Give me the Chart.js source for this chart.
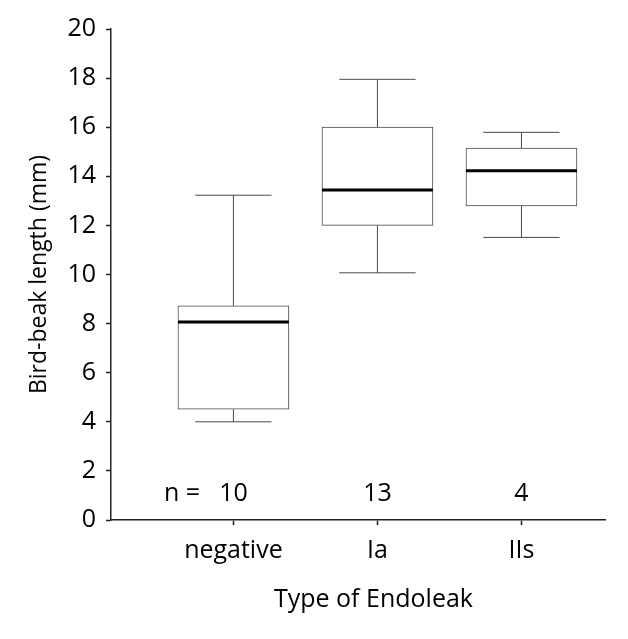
<!DOCTYPE html>
<html>
<head>
<meta charset="utf-8">
<script src="https://cdn.jsdelivr.net/npm/chart.js@4.4.1/dist/chart.umd.min.js"></script>
<style>
  html, body { margin: 0; padding: 0; background: #fff; }
  #wrap { width: 628px; height: 639px; }
</style>
</head>
<body>
<div id="wrap"><canvas id="boxChart" width="628" height="639"></canvas></div>
<script>
// values (mm)
const categories = ['negative', 'Ia', 'IIs'];
const counts = [10, 13, 4];
const whiskerLow = [4.0, 10.07, 11.51];
const q1 = [4.51, 12.0, 12.79];
const medians = [8.07, 13.44, 14.23];
const q3 = [8.72, 16.0, 15.15];
const whiskerHigh = [13.23, 17.95, 15.79];
const positions = [1, 2, 3];

const FONT = "'Open Sans', 'Noto Sans', sans-serif";
const lineColor = '#4a4a4a';

// whiskers, medians and n = labels, placed through the chart scales
const boxExtras = {
    id: 'boxExtras',
    afterDatasetsDraw(chart) {
        const ctx = chart.ctx;
        const xs = chart.scales.x;
        const ys = chart.scales.y;
        const boxHalf = 0.385;
        const capHalf = 0.265;
        ctx.save();
        positions.forEach(function (p, i) {
            const cx = xs.getPixelForValue(p);
            // whiskers
            ctx.strokeStyle = lineColor;
            ctx.lineWidth = 1;
            ctx.beginPath();
            ctx.moveTo(cx, ys.getPixelForValue(q3[i]));
            ctx.lineTo(cx, ys.getPixelForValue(whiskerHigh[i]));
            ctx.moveTo(cx, ys.getPixelForValue(q1[i]));
            ctx.lineTo(cx, ys.getPixelForValue(whiskerLow[i]));
            [whiskerHigh[i], whiskerLow[i]].forEach(function (v) {
                const y = ys.getPixelForValue(v);
                ctx.moveTo(xs.getPixelForValue(p - capHalf), y);
                ctx.lineTo(xs.getPixelForValue(p + capHalf), y);
            });
            ctx.stroke();
            // median
            ctx.strokeStyle = '#000';
            ctx.lineWidth = 3;
            ctx.beginPath();
            const my = ys.getPixelForValue(medians[i]);
            ctx.moveTo(xs.getPixelForValue(p - boxHalf), my);
            ctx.lineTo(xs.getPixelForValue(p + boxHalf), my);
            ctx.stroke();
        });

        // n = labels
        ctx.fillStyle = '#000';
        ctx.font = '25px ' + FONT;
        ctx.textBaseline = 'middle';
        const ny = ys.getPixelForValue(1.05);
        ctx.textAlign = 'center';
        positions.forEach(function (p, i) {
            ctx.fillText(String(counts[i]), xs.getPixelForValue(p), ny);
        });
        const firstW = ctx.measureText(String(counts[0])).width;
        ctx.textAlign = 'right';
        ctx.fillText('n =', xs.getPixelForValue(positions[0]) - firstW / 2 - 19, ny);

        // x axis title, centred under the middle group
        ctx.textAlign = 'center';
        ctx.fillText('Type of Endoleak', xs.getPixelForValue(positions[1]) - 4, 600);
        ctx.restore();
    }
};

new Chart(document.getElementById('boxChart').getContext('2d'), {
    type: 'bar',
    data: {
        datasets: [{
            label: 'IQR',
            data: positions.map(function (p, i) { return { x: p, y: [q1[i], q3[i]] }; }),
            backgroundColor: '#ffffff',
            borderColor: lineColor,
            borderWidth: 1,
            borderSkipped: false,
            barThickness: 111
        }]
    },
    options: {
        responsive: false,
        animation: false,
        layout: { padding: { top: 29, right: 23, bottom: 0, left: 0 } },
        plugins: {
            legend: { display: false },
            tooltip: { enabled: false }
        },
        scales: {
            x: {
                type: 'linear',
                min: 0.15,
                max: 3.58,
                offset: false,
                afterFit: function (scale) { scale.height = 119; },
                afterBuildTicks: function (scale) {
                    scale.ticks = positions.map(function (p) { return { value: p }; });
                },
                ticks: {
                    callback: function (value) { return categories[positions.indexOf(value)]; },
                    color: '#000',
                    font: { family: FONT, size: 25 },
                    padding: 11,
                    maxRotation: 0
                },
                grid: {
                    offset: false,
                    drawOnChartArea: false,
                    tickLength: 5,
                    tickWidth: 1.5,
                    color: '#222'
                },
                border: { color: '#222', width: 1.5 }
            },
            y: {
                min: 0,
                max: 20,
                afterFit: function (scale) { scale.width = 111; },
                ticks: {
                    stepSize: 2,
                    color: '#000',
                    font: { family: FONT, size: 25 },
                    padding: 10
                },
                grid: {
                    drawOnChartArea: false,
                    tickLength: 5,
                    tickWidth: 1.5,
                    color: '#222'
                },
                border: { color: '#222', width: 1.5 },
                title: {
                    display: true,
                    text: 'Bird-beak length (mm)',
                    color: '#000',
                    font: { family: FONT, size: 23 },
                    padding: { top: 26, bottom: 0 }
                }
            }
        }
    },
    plugins: [boxExtras]
});
</script>
</body>
</html>
